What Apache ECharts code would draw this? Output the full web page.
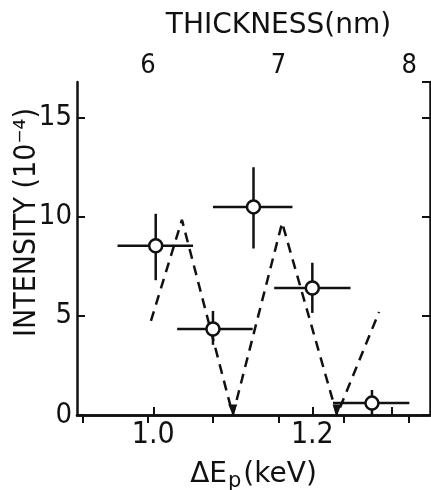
<!doctype html>
<html>
<head>
<meta charset="utf-8">
<title>Intensity vs energy loss</title>
<script src="https://cdn.jsdelivr.net/npm/echarts@6/dist/echarts.min.js"></script>
<style>
  html, body { margin: 0; padding: 0; background: #fff; }
  #main { width: 431px; height: 490px; }
</style>
</head>
<body>
<div id="main"></div>
<script>
// measured points: energy loss (keV) and intensity (1e-4), with error bars
var ptE  = [1.003, 1.075, 1.126, 1.200, 1.275];
var ptI  = [8.54, 4.34, 10.5, 6.41, 0.6];
var eLo  = [0.955, 1.030, 1.075, 1.152, 1.226];
var eHi  = [1.050, 1.125, 1.175, 1.248, 1.322];
var iLo  = [6.8, 3.54, 8.4, 5.15, 0];
var iHi  = [10.15, 5.25, 12.5, 7.68, 1.26];

// dashed calculated curve
var dashE = [0.997, 1.036, 1.100, 1.162, 1.231, 1.284];
var dashI = [4.75, 9.85, 0, 9.7, 0, 5.2];

// arrow heads at the minima
var arrowE = [1.100, 1.231];
var arrowI = [0, 0];

// tick values
var bottomTicks  = [1.0, 1.1, 1.2, 1.3];
var bottomLabels = [1.0, 1.2];
var topTicks  = [5.5, 6, 6.5, 7, 7.5, 8];
var topLabels = [6, 7, 8];

var ink = '#111';
var numFont = "'Liberation Sans Narrow', 'DejaVu Sans Condensed', sans-serif";
var nameFont = "'DejaVu Sans', sans-serif";
var condFont = "'DejaVu Sans Condensed', 'DejaVu Sans', sans-serif";

var myChart = echarts.init(document.getElementById('main'));

var errData = [];
for (var i = 0; i < ptE.length; i++)
    errData.push([ptE[i], ptI[i], eLo[i], eHi[i], iLo[i], iHi[i]]);

var option = {
    backgroundColor: '#fff',
    animation: false,
    grid: { left: 77, right: 1, top: 82, bottom: 75, containLabel: false, outerBoundsMode: 'none' },
    xAxis: [{
        type: 'value',
        position: 'bottom',
        min: 0.904, max: 1.348,
        axisLine: { lineStyle: { color: ink, width: 2.5 } },
        axisTick: { inside: true, length: 8, customValues: bottomTicks, lineStyle: { color: ink, width: 2 } },
        axisLabel: { customValues: bottomLabels, color: ink, fontSize: 30, fontFamily: numFont, margin: 5,
                     formatter: function (v) { return v.toFixed(1); } },
        splitLine: { show: false },
        name: '{a|ΔE}{s|p}{a|(keV)}',
        nameLocation: 'middle',
        nameGap: 42,
        nameMoveOverlap: false,
        nameTextStyle: {
            rich: {
                a: { fontSize: 28, fontFamily: nameFont, color: ink },
                s: { fontSize: 21, fontFamily: nameFont, color: ink, padding: [14, 2, 0, 1] }
            }
        }
    }, {
        type: 'value',
        position: 'top',
        min: 5.457, max: 8.16,
        axisLine: { lineStyle: { color: ink, width: 2.5 } },
        axisTick: { inside: true, length: 8, customValues: topTicks, lineStyle: { color: ink, width: 2 } },
        axisLabel: { customValues: topLabels, color: ink, fontSize: 27, fontFamily: numFont, margin: 3 },
        splitLine: { show: false },
        name: 'THICKNESS(nm)',
        nameLocation: 'middle',
        nameGap: 42,
        nameMoveOverlap: false,
        nameTextStyle: { fontSize: 28, fontFamily: nameFont, color: ink, padding: [0, 0, 0, 50] }
    }],
    yAxis: [{
        type: 'value',
        position: 'left',
        min: 0, max: 16.8, interval: 5,
        axisLine: { lineStyle: { color: ink, width: 2.5 } },
        axisTick: { inside: true, length: 8, lineStyle: { color: ink, width: 2 } },
        axisLabel: { color: ink, fontSize: 29, fontFamily: numFont, margin: 5, showMaxLabel: false },
        splitLine: { show: false },
        name: 'INTENSITY (10⁻⁴)',
        nameLocation: 'middle',
        nameGap: 35,
        nameMoveOverlap: false,
        nameTextStyle: { fontSize: 30, fontFamily: condFont, color: ink, padding: [0, 0, 0, 52] }
    }, {
        type: 'value',
        position: 'right',
        min: 0, max: 16.8, interval: 5,
        axisLine: { lineStyle: { color: ink, width: 2.5 } },
        axisTick: { inside: true, length: 8, lineStyle: { color: ink, width: 2 } },
        axisLabel: { show: false },
        splitLine: { show: false }
    }],
    series: [{
        type: 'line',
        data: dashE.map(function (e, k) { return [e, dashI[k]]; }),
        symbol: 'none',
        lineStyle: { color: ink, width: 2.5, type: [10, 7] },
        z: 2
    }, {
        type: 'scatter',
        data: arrowE.map(function (e, k) { return [e, arrowI[k]]; }),
        symbol: 'triangle',
        symbolRotate: 180,
        symbolSize: [9, 11],
        symbolOffset: [0, -5],
        itemStyle: { color: ink, opacity: 1 },
        z: 2
    }, {
        type: 'custom',
        data: errData,
        renderItem: function (params, api) {
            var y  = api.value(1);
            var x  = api.value(0);
            var l  = api.coord([api.value(2), y]);
            var r  = api.coord([api.value(3), y]);
            var lo = api.coord([x, api.value(4)]);
            var hi = api.coord([x, api.value(5)]);
            var st = { stroke: ink, lineWidth: 2.5 };
            return {
                type: 'group',
                children: [
                    { type: 'line', shape: { x1: l[0], y1: l[1], x2: r[0], y2: r[1] }, style: st },
                    { type: 'line', shape: { x1: lo[0], y1: lo[1], x2: hi[0], y2: hi[1] }, style: st }
                ]
            };
        },
        z: 3
    }, {
        type: 'scatter',
        data: ptE.map(function (e, k) { return [e, ptI[k]]; }),
        symbol: 'circle',
        symbolSize: 13,
        itemStyle: { color: '#fff', borderColor: ink, borderWidth: 2.5, opacity: 1 },
        z: 4
    }]
};
myChart.setOption(option);
</script>
</body>
</html>
